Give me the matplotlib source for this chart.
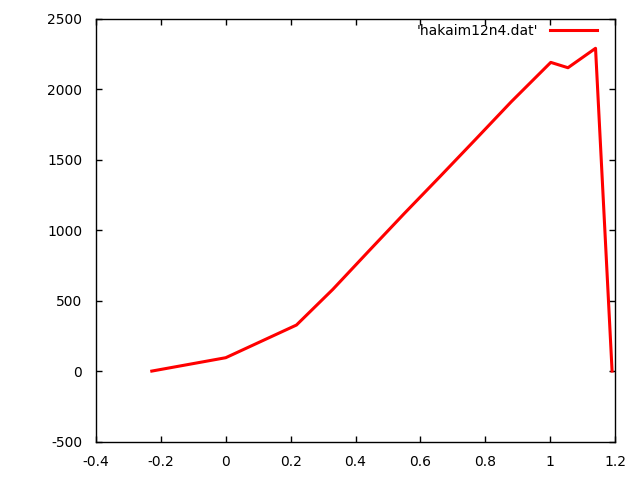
import matplotlib
matplotlib.use("Agg")
import matplotlib.pyplot as plt

x_vals = [-0.228, 0.0, 0.218, 0.33, 0.44, 0.55, 0.66, 0.77, 0.88, 1.002, 1.055, 1.140, 1.191]
y_vals = [0, 95, 327, 580, 850, 1118, 1380, 1645, 1912, 2192, 2154, 2292, 0]
series_label = "'hakaim12n4.dat'"
x_ticks = [-0.4, -0.2, 0, 0.2, 0.4, 0.6, 0.8, 1, 1.2]
x_tick_labels = ["-0.4", "-0.2", "0", "0.2", "0.4", "0.6", "0.8", "1", "1.2"]
y_ticks = [-500, 0, 500, 1000, 1500, 2000, 2500]
y_tick_labels = ["-500", "0", "500", "1000", "1500", "2000", "2500"]

plt.rcParams['font.family'] = ['DejaVu Sans']
fig = plt.figure(figsize=(6.4, 4.8), dpi=100)
ax = fig.add_axes([96/640, 1-441.5/480, (615-96)/640, (441.5-19)/480])
ax.plot(x_vals, y_vals, color='#ff0000', lw=2.2, label=series_label)
ax.set_xlim(-0.4, 1.2)
ax.set_ylim(-500, 2500)
ax.set_xticks(x_ticks)
ax.set_xticklabels(x_tick_labels)
ax.set_yticks(y_ticks)
ax.set_yticklabels(y_tick_labels)
ax.tick_params(direction='in', length=4, width=1, top=True, right=True, labelsize=10, pad=10, colors='black')
for s in ax.spines.values():
    s.set_linewidth(1)
leg = ax.legend(loc='center right', bbox_to_anchor=(0.965, 0.9716), frameon=False, markerfirst=False,
                handlelength=3.4, handletextpad=0.85, borderpad=0, borderaxespad=0, fontsize=10)
fig.savefig('out.png', dpi=100)
